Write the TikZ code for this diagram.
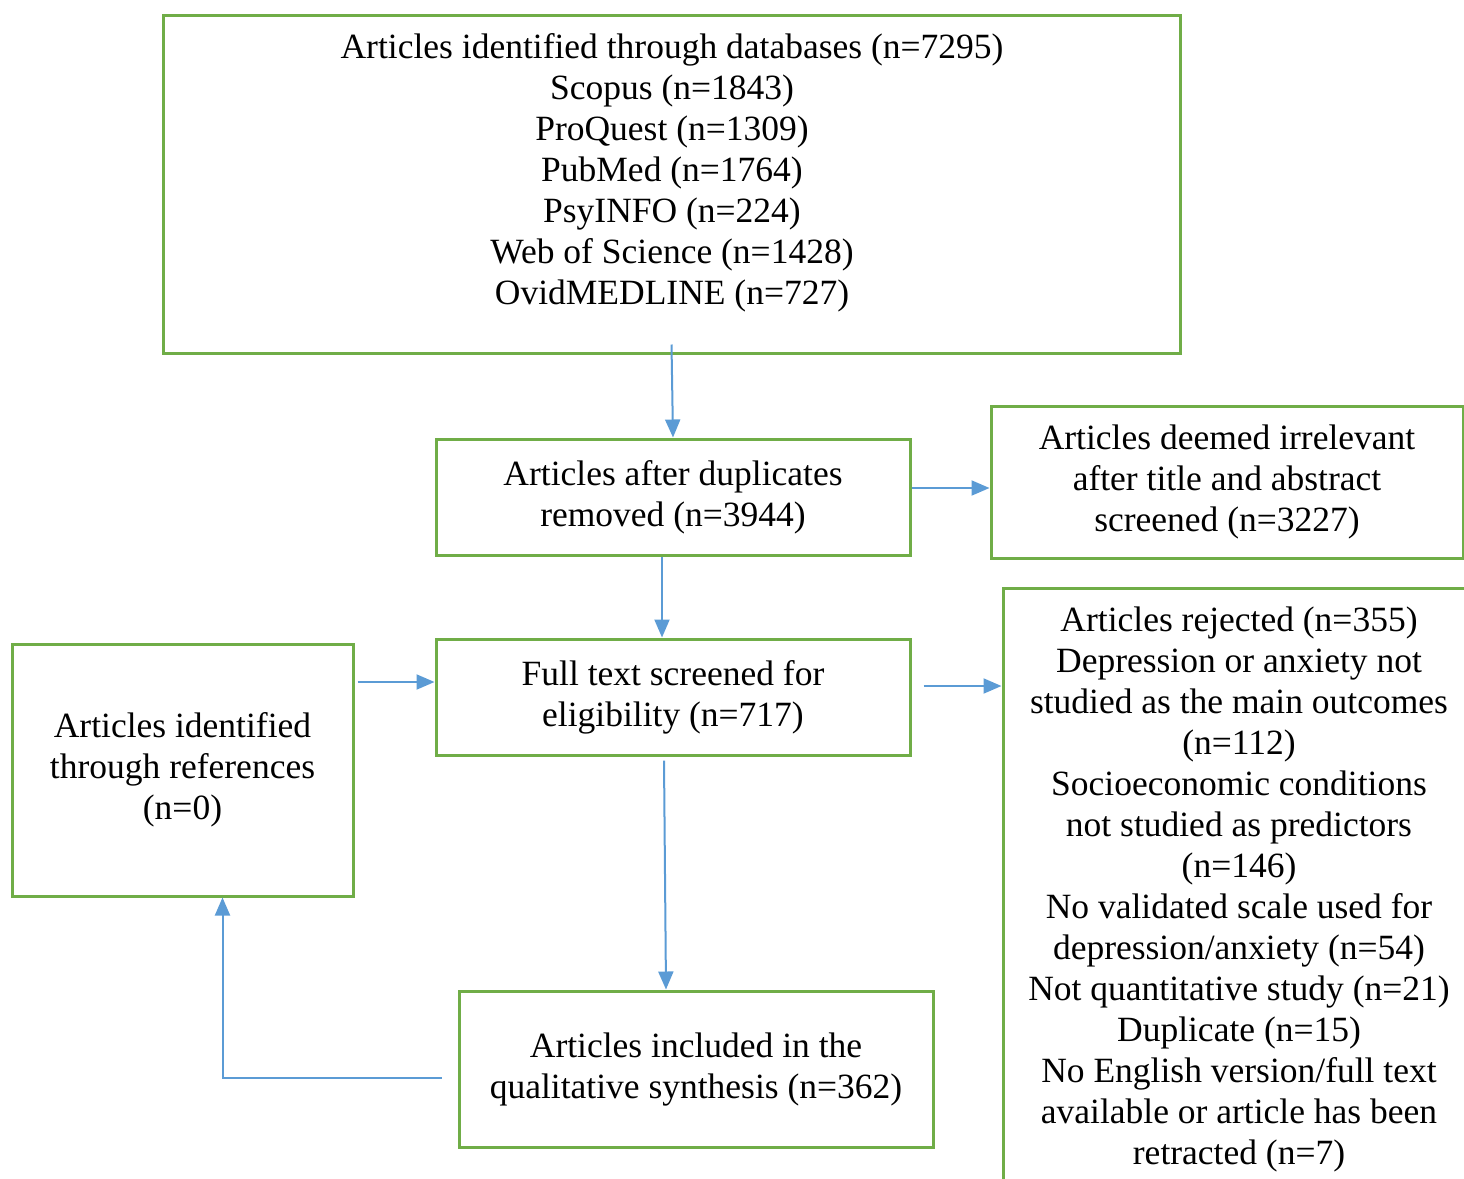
\documentclass[tikz,border=0pt]{standalone}
\usepackage{fontspec}
\setmainfont{Liberation Serif}
\usetikzlibrary{arrows.meta}
\definecolor{boxgreen}{HTML}{70AD47}
\definecolor{flowblue}{HTML}{5B9BD5}
\tikzset{
    txt/.style={inner sep=0pt, align=center, font=\fontsize{35.5}{41}\selectfont},
    box/.style={txt, draw=boxgreen, line width=3pt},
    flow/.style={draw=flowblue, line width=2pt, -{Triangle[length=18pt,width=15pt]}}
}
\begin{document}
\begin{tikzpicture}[x=1pt,y=-1pt]
        \clip (0,0) rectangle (1464,1178);
        \useasboundingbox (0,0) rectangle (1464,1178);
        \begin{scope}
            \node[box, minimum width=1017pt, minimum height=338pt] (db) at (671.5,184) {};
            \node[txt] (dbtext) at (672,173) {Articles identified through databases (n=7295)\\Scopus (n=1843)\\ProQuest (n=1309)\\PubMed (n=1764)\\PsyINFO (n=224)\\Web of Science (n=1428)\\OvidMEDLINE (n=727)};
            \node[box, minimum width=474pt, minimum height=116pt] (dup) at (673,497) {Articles after duplicates\\removed (n=3944)};
            \node[box, minimum width=472pt, minimum height=152pt] (irrel) at (1227,482) {Articles deemed irrelevant\\after title and abstract\\screened (n=3227)};
            \node[box, minimum width=474pt, minimum height=116pt] (full) at (673,697) {Full text screened for\\eligibility (n=717)};
            \node[box, minimum width=341pt, minimum height=252pt] (ref) at (182.5,770) {Articles identified\\through references\\(n=0)};
            \node[box, minimum width=474pt, minimum height=156pt] (incl) at (696,1069) {Articles included in the\\qualitative synthesis (n=362)};
            \node[box, minimum width=472pt, minimum height=602pt] (rej) at (1239,889) {Articles rejected (n=355)\\Depression or anxiety not\\studied as the main outcomes\\(n=112)\\Socioeconomic conditions\\not studied as predictors\\(n=146)\\No validated scale used for\\depression/anxiety (n=54)\\Not quantitative study (n=21)\\Duplicate (n=15)\\No English version/full text\\available or article has been\\retracted (n=7)};
        \end{scope}
        \begin{scope}
            \coordinate (reft) at ([yshift=15pt]full.west);
            \draw[flow] ([yshift=10pt]db.south) -- (dup.north);
            \draw[flow] ([yshift=9pt]dup.east) -- ([yshift=9pt]dup.east -| irrel.west);
            \draw[flow] ([xshift=-11pt]dup.south) -- ([xshift=-11pt]full.north);
            \draw[flow] ([xshift=3pt]reft -| ref.east) -- (reft);
            \draw[flow] ([xshift=12pt,yshift=11pt]full.east) -- ([yshift=11pt]full.east -| rej.west);
            \draw[flow] ([xshift=-9pt,yshift=-4pt]full.south) -- ([xshift=-30pt]incl.north);
            \draw[flow] ([xshift=-16pt,yshift=-9pt]incl.west) -| ([xshift=40pt]ref.south);
        \end{scope}
    \end{tikzpicture}
\end{document}
